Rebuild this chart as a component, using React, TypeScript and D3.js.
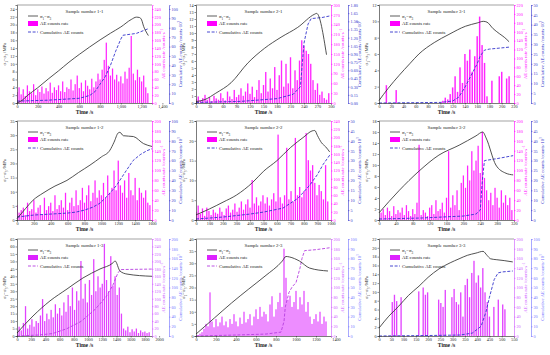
import React, { useRef, useEffect } from 'react';
import * as d3 from 'd3';

// σ1-σ3 curves: [time s, MPa]
const s11Stress = [[0, 0], [50, 0.7], [100, 1.9], [200, 3.9], [300, 6.1], [400, 8.2], [500, 10.4], [600, 12.4], [700, 14.3], [800, 16.1], [900, 17.8], [1000, 19.4], [1100, 21.3], [1150, 21.9], [1180, 21.8], [1200, 21.2], [1220, 19.5], [1245, 18.1], [1265, 17.2]];
const s21Stress = [[0, 0.2], [20, 0.5], [44, 1.4], [78, 2.9], [115, 5.7], [152, 7.8], [189, 9.4], [226, 10.8], [264, 12.7], [268, 12.8], [290, 6.9]];
const s31Stress = [[0, 0.3], [15, 1.8], [33, 3.4], [50, 4.8], [65, 6], [90, 7.4], [114, 8.4], [141, 9.4], [160, 9.8], [170, 10], [176, 9.9], [186, 9.1], [196, 8.5], [205, 8], [212, 7.5]];
const s12Stress = [[0, 0.5], [100, 4], [190, 7], [308, 9.5], [450, 12], [592, 14], [730, 16.8], [865, 19.4], [1000, 22.3], [1102, 24.7], [1150, 27.5], [1200, 30.8], [1220, 31], [1260, 29.8], [1380, 29.5], [1500, 27], [1600, 26]];
const s22Stress = [[0, 1.3], [100, 2.8], [200, 4.5], [300, 6.3], [420, 9.5], [500, 12.3], [600, 15], [700, 18.3], [800, 21], [860, 22.5], [880, 22.6], [900, 21.3], [930, 19.5], [960, 18.5], [990, 17.2]];
const s32Stress = [[0, 1.3], [47, 5.3], [95, 8.9], [142, 11.8], [190, 13.6], [230, 15.3], [246, 16], [254, 14.9], [277, 10], [301, 8.5], [318, 8.2]];
const s13Stress = [[0, 2], [225, 13.4], [464, 23.5], [704, 31.5], [929, 38.9], [1168, 44.9], [1351, 49], [1380, 50.3], [1450, 43.5], [1548, 41.5], [1900, 40]];
const s23Stress = [[0, 0.8], [183, 7.4], [355, 13.6], [528, 19.4], [690, 24.7], [863, 30.9], [900, 32.8], [934, 32.6], [1035, 30.9], [1137, 28], [1320, 26.8]];
const s33Stress = [[0, 1.8], [40, 4.5], [81, 6.8], [120, 9.2], [163, 11.3], [200, 13.3], [244, 15.2], [290, 16.6], [326, 17.5], [360, 18.3], [395, 18.8], [424, 19.2], [440, 18.3], [455, 17.5], [480, 17.3], [510, 17.1], [545, 16.8]];

// AE counts rate, one value per sampling step
const s11Rate = [28, 40, 22, 35, 18, 45, 30, 25, 48, 20, 35, 28, 42, 24, 38, 30, 52, 26, 40, 33, 45, 30, 55, 28, 40, 36, 60, 32, 48, 70, 38, 52, 30, 58, 44, 35, 62, 40, 55, 75, 60, 85, 110, 154, 95, 70, 88, 60, 72, 55, 68, 50, 80, 62, 90, 171, 75, 58, 85, 66, 55, 70, 40, 25];
const s21Rate = [12, 20, 8, 15, 25, 10, 18, 6, 22, 14, 10, 30, 15, 8, 35, 20, 12, 40, 18, 25, 45, 22, 35, 60, 28, 50, 18, 40, 70, 30, 55, 95, 35, 75, 45, 110, 40, 85, 130, 50, 120, 60, 140, 45, 100, 70, 130, 192, 175, 160, 150, 120, 70, 40, 60, 25, 35, 15, 10, 30];
const s31Rate = [0, 0, 0, 40, 0, 0, 0, 29, 0, 0, 0, 0, 0, 0, 0, 0, 0, 0, 0, 0, 0, 0, 0, 0, 0, 2, 5, 12, 8, 20, 35, 60, 25, 80, 45, 110, 95, 120, 70, 105, 150, 194, 130, 90, 15, 0, 50, 0, 0, 60, 70, 0, 55, 60];
const s12Rate = [30, 15, 20, 25, 10, 35, 18, 22, 40, 15, 25, 30, 12, 45, 20, 28, 35, 18, 50, 22, 30, 40, 25, 55, 20, 35, 45, 28, 60, 30, 40, 65, 35, 50, 70, 38, 55, 80, 45, 60, 50, 75, 45, 90, 55, 65, 100, 60, 120, 70, 55, 80, 45, 95, 60, 50, 85, 40, 65, 55, 45, 60, 35, 30];
const s22Rate = [20, 35, 15, 28, 10, 30, 22, 12, 25, 18, 15, 30, 20, 12, 28, 35, 18, 25, 40, 20, 30, 45, 25, 38, 50, 30, 97, 40, 55, 35, 45, 60, 40, 55, 35, 50, 65, 45, 207, 55, 40, 60, 175, 50, 70, 45, 199, 60, 80, 55, 70, 211, 145, 120, 133, 90, 60, 85, 70, 50, 133, 45];
const s32Rate = [5, 15, 22, 10, 25, 18, 8, 28, 12, 20, 15, 25, 10, 30, 18, 8, 22, 12, 35, 152, 10, 20, 15, 8, 25, 30, 12, 40, 18, 22, 35, 15, 45, 139, 25, 50, 30, 60, 20, 75, 90, 65, 110, 80, 139, 100, 120, 150, 95, 178, 85, 60, 40, 55, 30, 65, 45, 25, 60, 35, 50, 30, 45, 20];
const s13Rate = [10, 25, 15, 35, 80, 20, 30, 45, 25, 40, 35, 55, 99, 40, 60, 45, 70, 50, 85, 60, 75, 55, 90, 65, 110, 80, 130, 70, 120, 95, 201, 100, 140, 90, 150, 110, 206, 120, 160, 130, 140, 247, 150, 120, 214, 135, 160, 110, 130, 60, 20, 15, 25, 10, 18, 12, 20, 8, 15, 10, 12, 8, 10];
const s23Rate = [0, 2, 5, 8, 15, 25, 20, 90, 30, 18, 35, 20, 28, 40, 22, 30, 18, 35, 25, 45, 30, 20, 38, 25, 50, 28, 35, 45, 22, 40, 55, 35, 60, 40, 50, 45, 30, 65, 82, 40, 55, 70, 89, 60, 180, 120, 75, 83, 60, 70, 93, 55, 80, 65, 93, 50, 70, 40, 25, 35, 45, 30, 50, 25, 40, 30];
const s33Rate = [0, 0, 0, 0, 0, 0, 70, 85, 72, 0, 80, 0, 0, 0, 0, 0, 0, 0, 92, 0, 100, 85, 90, 0, 0, 0, 0, 75, 68, 60, 95, 0, 0, 80, 97, 70, 65, 90, 40, 105, 118, 80, 130, 155, 110, 125, 100, 140, 90, 70, 40, 0, 60, 0, 75, 0, 65, 55, 0, 0];

// cumulative AE counts: [time s, counts]
const s11Cum = [[0, 2], [300, 3], [600, 5], [700, 8], [750, 12], [800, 20], [850, 28], [900, 40], [950, 55], [1000, 68], [1020, 72], [1150, 74], [1265, 79]];
const s21Cum = [[0, 0.01], [100, 0.03], [180, 0.08], [216, 0.16], [232, 0.3], [236, 0.7], [240, 1.1], [249, 1.45], [256, 1.55], [280, 1.57], [298, 1.6]];
const s31Cum = [[0, 0], [100, 0.3], [120, 1], [130, 3], [140, 8], [150, 14], [160, 20], [165, 24], [172, 27], [180, 27.5], [212, 28.5]];
const s12Cum = [[0, 3], [200, 5], [400, 6], [600, 7], [700, 8], [800, 10], [900, 13], [984, 17], [1080, 25], [1180, 35], [1280, 48], [1375, 60], [1460, 66], [1540, 70], [1600, 72]];
const s22Cum = [[0, 0.5], [200, 1.5], [400, 3], [500, 4], [644, 6], [756, 11], [844, 17.7], [900, 23], [941, 28], [993, 33]];
const s32Cum = [[0, 0.5], [100, 1], [200, 2], [230, 3], [240, 5], [245, 20], [250, 30], [280, 31], [318, 32.5]];
const s13Cum = [[0, 0], [300, 2], [500, 5], [700, 15], [900, 30], [1100, 55], [1250, 80], [1350, 105], [1420, 130], [1460, 137], [1900, 138]];
const s23Cum = [[0, 0], [400, 1], [700, 2], [850, 4], [880, 15], [893, 30], [930, 45], [964, 51], [1000, 55], [1040, 70], [1060, 80], [1086, 88], [1200, 89], [1340, 91]];
const s33Cum = [[0, 0], [200, 0.5], [330, 1], [380, 3], [416, 10], [436, 25], [450, 40], [469, 58], [485, 65], [500, 66], [545, 67]];

const panels = [
  { title: 'Sample number 1-1', stress: s11Stress, rate: s11Rate, rateStep: 20, cum: s11Cum, xMax: 1300, xStep: 200, yMax: 24, yStep: 2, rMax: 240, rStep: 20, cMax: 100, cStep: 10, pad: 25 / 24, exp: '3', xFmt: ',' },
  { title: 'Sample number 2-1', stress: s21Stress, rate: s21Rate, rateStep: 5, cum: s21Cum, xMax: 300, xStep: 30, yMax: 14, yStep: 1, rMax: 300, rStep: 30, cMax: 1.8, cStep: 0.15, pad: 1, exp: '6', cFmt: '.2f' },
  { title: 'Sample number 3-1', stress: s31Stress, rate: s31Rate, rateStep: 4, cum: s31Cum, xMax: 220, xStep: 20, yMax: 12, yStep: 2, rMax: 220, rStep: 20, cMax: 50, cStep: 5, pad: 1, exp: '3' },
  { title: 'Sample number 1-2', stress: s12Stress, rate: s12Rate, rateStep: 25, cum: s12Cum, xMax: 1600, xStep: 200, yMax: 35, yStep: 5, rMax: 200, rStep: 20, cMax: 100, cStep: 10, pad: 1, exp: '3' },
  { title: 'Sample number 2-2', stress: s22Stress, rate: s22Rate, rateStep: 16, cum: s22Cum, xMax: 1000, xStep: 100, yMax: 25, yStep: 5, rMax: 240, rStep: 20, cMax: 50, cStep: 5, pad: 1, exp: '3' },
  { title: 'Sample number 3-2', stress: s32Stress, rate: s32Rate, rateStep: 5, cum: s32Cum, xMax: 320, xStep: 40, yMax: 18, yStep: 2, rMax: 200, rStep: 20, cMax: 50, cStep: 5, pad: 1, exp: '3' },
  { title: 'Sample number 1-3', stress: s13Stress, rate: s13Rate, rateStep: 30, cum: s13Cum, xMax: 1900, xStep: 200, yMax: 65, yStep: 5, rMax: 260, rStep: 20, cMax: 200, cStep: 20, pad: 1, exp: '3' },
  { title: 'Sample number 2-3', stress: s23Stress, rate: s23Rate, rateStep: 20, cum: s23Cum, xMax: 1350, xStep: 200, yMax: 40, yStep: 5, rMax: 200, rStep: 20, cMax: 100, cStep: 10, pad: 1, exp: '3' },
  { title: 'Sample number 3-3', stress: s33Stress, rate: s33Rate, rateStep: 9, cum: s33Cum, xMax: 550, xStep: 50, yMax: 22, yStep: 2, rMax: 200, rStep: 20, cMax: 100, cStep: 10, pad: 1, exp: '3' },
];

const FONT = '"Liberation Serif", "Times New Roman", serif';
const colLeft = [17, 196, 379];
const rowTop = [5, 121, 239];
const rowBottom = [103, 220, 336];
const plotW = 135;

const rowColors = [
  { bar: '#ff00ff', rate: '#ff00ff', cum: '#3333cc', cumAxis: '#3333cc' },
  { bar: '#ff00ff', rate: '#ff00ff', cum: '#3333cc', cumAxis: '#3333cc' },
  { bar: '#dd22ff', rate: '#cc55ff', cum: '#b63fe0', cumAxis: '#6f6fff' },
];

const ticksOf = (max, step) => d3.range(0, Math.round(max / step) + 1).map(i => +(i * step).toFixed(4));

const App = () => {
  const svgRef = useRef();

  useEffect(() => {
    const svg = d3.select(svgRef.current);
    svg.selectAll('*').remove();

    const styleAxis = (sel, color) => {
      sel.attr('font-size', 4.2).attr('font-family', FONT);
      sel.select('.domain').attr('stroke', color).attr('stroke-width', 0.6);
      sel.selectAll('.tick line').attr('stroke', color).attr('stroke-width', 0.5);
      sel.selectAll('.tick text').attr('fill', color);
    };

    const rotTitle = (x, y, color, parts) => {
      const t = svg.append('text')
        .attr('transform', `translate(${x},${y}) rotate(-90)`)
        .attr('text-anchor', 'middle')
        .attr('font-family', FONT)
        .attr('font-size', 4.8)
        .attr('fill', color);
      parts.forEach(([txt, shift]) => {
        const s = t.append('tspan').text(txt);
        if (shift) s.attr('baseline-shift', shift).attr('font-size', 3.4);
      });
    };

    panels.forEach((p, k) => {
      const row = Math.floor(k / 3), col = k % 3;
      const c = rowColors[row];
      const cumColor = k === 8 ? '#3333cc' : c.cum;
      const left = colLeft[col], right = left + plotW;
      const top = rowTop[row], bottom = rowBottom[row];
      const midY = (top + bottom) / 2;

      const x = d3.scaleLinear().domain([0, p.xMax]).range([left, right]);
      const y = d3.scaleLinear().domain([0, p.yMax * p.pad]).range([bottom, top]);
      const yr = d3.scaleLinear().domain([0, p.rMax * p.pad]).range([bottom, top]);
      const yc = d3.scaleLinear().domain([0, p.cMax * p.pad]).range([bottom, top]);

      const g = svg.append('g');
      const clipId = `clip${k}`;
      g.append('clipPath').attr('id', clipId)
        .append('rect').attr('x', left).attr('y', top).attr('width', plotW).attr('height', bottom - top);

      // AE counts rate bars (thin spikes)
      const bw = Math.max(0.7, (x(p.rateStep) - x(0)) * 0.6);
      g.append('g').attr('clip-path', `url(#${clipId})`)
        .selectAll('rect')
        .data(p.rate)
        .join('rect')
        .attr('x', (d, i) => x(i * p.rateStep) - bw / 2)
        .attr('y', d => yr(d))
        .attr('width', bw)
        .attr('height', d => bottom - yr(d))
        .attr('fill', c.bar)
        .attr('opacity', 0.85);

      // cumulative counts
      const cLine = d3.line().x(d => x(d[0])).y(d => yc(d[1]));
      g.append('path').datum(p.cum)
        .attr('d', cLine)
        .attr('fill', 'none')
        .attr('stroke', cumColor)
        .attr('stroke-width', 0.9)
        .attr('stroke-dasharray', '3,1.6');

      // stress curve
      const sLine = d3.line().x(d => x(d[0])).y(d => y(d[1])).curve(d3.curveMonotoneX);
      g.append('path').datum(p.stress)
        .attr('d', sLine)
        .attr('fill', 'none')
        .attr('stroke', '#333')
        .attr('stroke-width', 0.85);

      // frame top
      g.append('line').attr('x1', left).attr('x2', right).attr('y1', top).attr('y2', top)
        .attr('stroke', '#444').attr('stroke-width', 0.5);

      // axes
      const xAxis = g.append('g').attr('transform', `translate(0,${bottom})`)
        .call(d3.axisBottom(x).tickValues(ticksOf(p.xMax, p.xStep)).tickSize(1.5).tickPadding(1).tickFormat(d3.format(p.xFmt || '')));
      styleAxis(xAxis, '#222');

      const yAxis = g.append('g').attr('transform', `translate(${left},0)`)
        .call(d3.axisLeft(y).tickValues(ticksOf(p.yMax, p.yStep)).tickSize(1.5).tickPadding(1).tickFormat(d3.format('')));
      styleAxis(yAxis, '#222');

      const rAxis = g.append('g').attr('transform', `translate(${right},0)`)
        .call(d3.axisRight(yr).tickValues(ticksOf(p.rMax, p.rStep)).tickSize(1.5).tickPadding(1).tickFormat(d3.format('')));
      styleAxis(rAxis, c.rate);

      const cAxis = g.append('g').attr('transform', `translate(${right + 17},0)`)
        .call(d3.axisRight(yc).tickValues(ticksOf(p.cMax, p.cStep)).tickSize(1.5).tickPadding(1).tickFormat(d3.format(p.cFmt || '')));
      styleAxis(cAxis, c.cumAxis);

      // axis titles
      svg.append('text')
        .attr('x', (left + right) / 2).attr('y', bottom + 10.5)
        .attr('text-anchor', 'middle').attr('font-family', FONT)
        .attr('font-size', 5.6).attr('font-weight', 'bold').attr('fill', '#222')
        .text('Time /s');
      rotTitle(left - 11, midY, '#222', [['σ'], ['1', 'sub'], ['−σ'], ['3', 'sub'], [' /MPa']]);
      rotTitle(right + 13, midY, c.rate, [['AE counts rate /counts·s'], ['−1', 'super']]);
      rotTitle(right + 30, midY, c.cumAxis, [['Cumulative AE counts /counts·10'], [p.exp, 'super']]);

      // title
      svg.append('text')
        .attr('x', (left + right) / 2).attr('y', top + 8)
        .attr('text-anchor', 'middle').attr('font-family', FONT)
        .attr('font-size', 4.8).attr('fill', '#222')
        .text(p.title);

      // legend
      const lg = svg.append('g').attr('font-family', FONT).attr('font-size', 4.8).attr('fill', '#222');
      const lx = left + 11, tx = left + 23;
      lg.append('line').attr('x1', lx).attr('x2', lx + 10).attr('y1', top + 11).attr('y2', top + 11)
        .attr('stroke', '#333').attr('stroke-width', 0.8);
      const t1 = lg.append('text').attr('x', tx).attr('y', top + 12.6);
      t1.append('tspan').text('σ');
      t1.append('tspan').text('1').attr('baseline-shift', 'sub').attr('font-size', 3.4);
      t1.append('tspan').text('−σ');
      t1.append('tspan').text('3').attr('baseline-shift', 'sub').attr('font-size', 3.4);
      lg.append('rect').attr('x', lx).attr('y', top + 16).attr('width', 10).attr('height', 5).attr('fill', c.bar);
      lg.append('text').attr('x', tx).attr('y', top + 20.3).text('AE counts rate');
      lg.append('line').attr('x1', lx).attr('x2', lx + 10).attr('y1', top + 27).attr('y2', top + 27)
        .attr('stroke', cumColor).attr('stroke-width', 0.9).attr('stroke-dasharray', '3,1.6');
      lg.append('text').attr('x', tx).attr('y', top + 28.6).text('Cumulative AE counts');
    });
  }, []);

  return (
    <svg ref={svgRef} width={550} height={355}
      style={{ position: 'absolute', left: 0, top: 0, background: '#fff' }} />
  );
};

export default App;
